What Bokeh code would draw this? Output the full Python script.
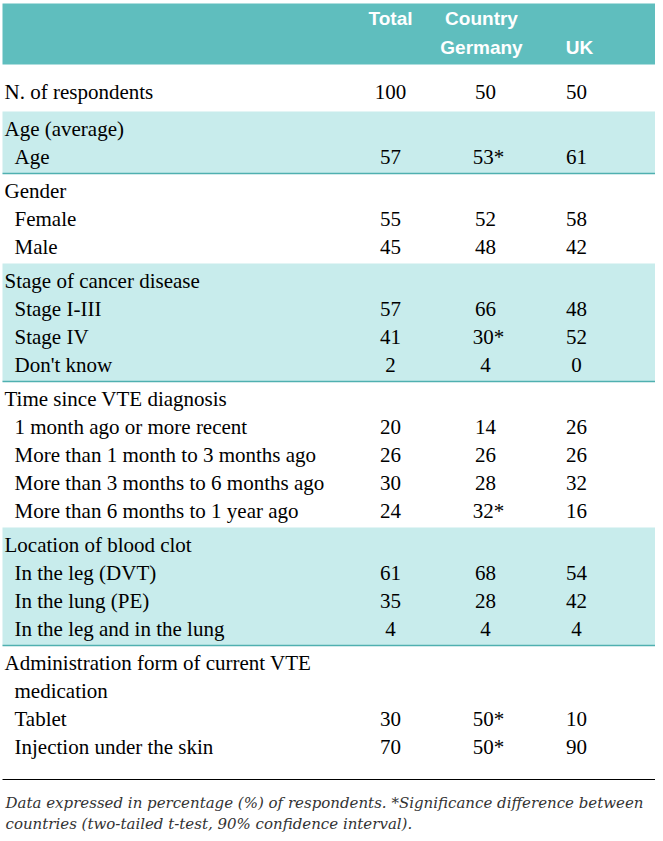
from bokeh.plotting import figure
from bokeh.models import Range1d
from bokeh.core.properties import value
from bokeh.embed import file_html
from bokeh.resources import INLINE

# ---------------- data ----------------
col_headers_top = ["Total", "Country"]
col_headers_bottom = ["Germany", "UK"]

n_label = "N. of respondents"
n_values = [100, 50, 50]

section_titles = ["Age (average)", "Gender", "Stage of cancer disease",
                  "Time since VTE diagnosis", "Location of blood clot",
                  "Administration form of current VTE"]
section_subtitles = [None, None, None, None, None, "medication"]
section_banded = [True, False, True, False, True, False]

age_labels = ["Age"]
age_total = [57]
age_germany = [53]
age_uk = [61]
age_sig = [True]

gender_labels = ["Female", "Male"]
gender_total = [55, 45]
gender_germany = [52, 48]
gender_uk = [58, 42]
gender_sig = [False, False]

stage_labels = ["Stage I-III", "Stage IV", "Don't know"]
stage_total = [57, 41, 2]
stage_germany = [66, 30, 4]
stage_uk = [48, 52, 0]
stage_sig = [False, True, False]

time_labels = ["1 month ago or more recent",
               "More than 1 month to 3 months ago",
               "More than 3 months to 6 months ago",
               "More than 6 months to 1 year ago"]
time_total = [20, 26, 30, 24]
time_germany = [14, 26, 28, 32]
time_uk = [26, 26, 32, 16]
time_sig = [False, False, False, True]

location_labels = ["In the leg (DVT)", "In the lung (PE)", "In the leg and in the lung"]
location_total = [61, 35, 4]
location_germany = [68, 28, 4]
location_uk = [54, 42, 4]
location_sig = [False, False, False]

admin_labels = ["Tablet", "Injection under the skin"]
admin_total = [30, 70]
admin_germany = [50, 50]
admin_uk = [10, 90]
admin_sig = [True, True]

footnote_lines = [
    "Data expressed in percentage (%) of respondents. *Significance difference between",
    "countries (two-tailed t-test, 90% confidence interval).",
]

sections_rows = [
    (age_labels, age_total, age_germany, age_uk, age_sig),
    (gender_labels, gender_total, gender_germany, gender_uk, gender_sig),
    (stage_labels, stage_total, stage_germany, stage_uk, stage_sig),
    (time_labels, time_total, time_germany, time_uk, time_sig),
    (location_labels, location_total, location_germany, location_uk, location_sig),
    (admin_labels, admin_total, admin_germany, admin_uk, admin_sig),
]

# ---------------- layout ----------------
W, H = 655, 833
LEFT, RIGHT = 2, 657
COL_X = [390, 485, 576]
HEAD_COLOR = "#5fbebe"
BAND_COLOR = "#c8ecec"
SEP_COLOR = "#4fb0b0"
BODY_FONT = "Liberation Serif"
BODY_SIZE = "21px"
HEAD_FONT = "Liberation Sans"
PITCH = 28

p = figure(width=W, height=H, output_backend="svg", toolbar_location=None,
           x_range=Range1d(0, W), y_range=Range1d(H, 0),
           min_border=0, outline_line_color=None)
p.axis.visible = False
p.grid.visible = False
p.background_fill_color = "white"

# header band
p.quad(left=[LEFT], right=[RIGHT], top=[3], bottom=[64], fill_color=HEAD_COLOR, line_color=None)

lab_x, lab_y, lab_t = [], [], []
val_x, val_y, val_t = [], [], []
band_top, band_bot, sep_y = [], [], []

# N row
lab_x.append(4); lab_y.append(91); lab_t.append(n_label)
for cx, v in zip(COL_X, n_values):
    val_x.append(cx); val_y.append(91); val_t.append(str(v))

top = 111
for title, sub, banded, rows in zip(section_titles, section_subtitles, section_banded, sections_rows):
    labels, tot, ger, uk, sig = rows
    y = top + 17
    lab_x.append(4); lab_y.append(y); lab_t.append(title)
    if sub:
        y += PITCH
        lab_x.append(14); lab_y.append(y); lab_t.append(sub)
    for i, lab in enumerate(labels):
        y += PITCH
        lab_x.append(14); lab_y.append(y); lab_t.append(lab)
        vals = [str(tot[i]), str(ger[i]) + ("*" if sig[i] else ""), str(uk[i])]
        for cx, v in zip(COL_X, vals):
            val_x.append(cx + (3 if v.endswith("*") else 0)); val_y.append(y); val_t.append(v)
    bottom = y + 17
    if banded:
        band_top.append(top); band_bot.append(bottom); sep_y.append(bottom)
    top = bottom

p.quad(left=LEFT, right=RIGHT, top=band_top, bottom=band_bot, fill_color=BAND_COLOR, line_color=None)
p.segment(x0=LEFT, x1=RIGHT, y0=sep_y, y1=sep_y, line_color=SEP_COLOR, line_width=1.5)

# rule above footnote
p.segment(x0=[LEFT], x1=[RIGHT], y0=[779], y1=[779], line_color="black", line_width=1)

p.text(x=lab_x, y=lab_y, text=lab_t, text_font=value(BODY_FONT), text_font_size=BODY_SIZE,
       text_baseline="middle", text_align="left", text_color="black")
p.text(x=val_x, y=val_y, text=val_t, text_font=value(BODY_FONT), text_font_size=BODY_SIZE,
       text_baseline="middle", text_align="center", text_color="black")

# column headers
p.text(x=[COL_X[0], COL_X[1] - 4], y=[18, 18], text=col_headers_top,
       text_font=value(HEAD_FONT), text_font_style="bold", text_font_size="19px",
       text_baseline="middle", text_align="center", text_color="white")
p.text(x=[COL_X[1] - 4, COL_X[2] + 3], y=[47, 47], text=col_headers_bottom,
       text_font=value(HEAD_FONT), text_font_style="bold", text_font_size="19px",
       text_baseline="middle", text_align="center", text_color="white")

# footnote
p.text(x=[5, 5], y=[802, 823], text=footnote_lines, text_font=value("DejaVu Serif"),
       text_font_style="italic", text_font_size="15px", text_baseline="middle",
       text_align="left", text_color="#333333")

open("out.html", "w").write(file_html(p, INLINE))
